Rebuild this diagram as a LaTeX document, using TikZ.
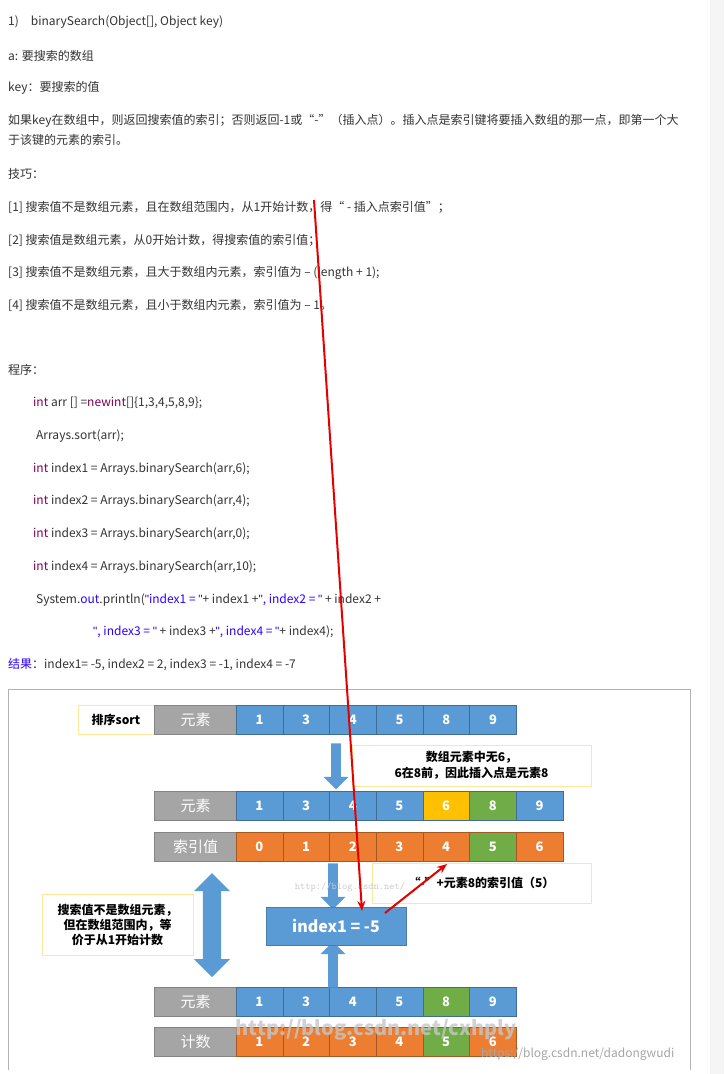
\documentclass[tikz,border=0pt]{standalone}
\usepackage{fontspec}
\setmainfont{Noto Sans CJK SC}
\newfontfamily\lat{Liberation Sans}
\usetikzlibrary{shapes.arrows,arrows.meta}
\definecolor{cblue}{HTML}{5B9BD5}
\definecolor{cgray}{HTML}{A5A5A5}
\definecolor{corange}{HTML}{ED7D31}
\definecolor{cgreen}{HTML}{70AD47}
\definecolor{cyellow}{HTML}{FFC000}
\definecolor{cbox}{HTML}{FFE699}
\definecolor{kw}{HTML}{7F0055}
\definecolor{str}{HTML}{2A00FF}
\definecolor{txt}{HTML}{333333}
\newcommand{\dq}{{\lat\char"0022}}
\begin{document}
\begin{tikzpicture}[x=1pt,y=-1pt,
  body/.style={anchor=west,inner sep=0pt,text=txt,font=\fontsize{12}{13}\selectfont},
  cell/.style={draw=cblue!70!black,line width=0.4pt,minimum height=29pt,inner sep=0pt,text=white,font=\bfseries\fontsize{13}{14}\selectfont},
  hdr/.style={cell,fill=cgray,draw=cgray!80!black,minimum width=82pt,font=\fontsize{15}{16}\selectfont},
  note/.style={draw=cbox,line width=0.8pt,fill=white,inner sep=0pt,align=center,font=\bfseries\fontsize{12}{16}\selectfont},
  barrow/.style={single arrow,fill=cblue,draw=none,minimum height=46pt,single arrow head extend=5pt,minimum width=25pt,inner sep=3pt},
  redline/.style={draw=red!90!black,line width=2pt,-{Stealth[length=10pt,width=8pt]}}]
\useasboundingbox (0,0) rectangle (724,1074);
\fill[white] (0,0) rectangle (724,1074);
\fill[gray!8] (710,0) rectangle (724,1074);
% text
\node[body] (t1) at (8,22) {1)\quad binarySearch(Object[], Object key)};
\node[body] (t2) at (8,56) {a: 要搜索的数组};
\node[body] (t3) at (8,88) {key：要搜索的值};
\node[body] (t4) at (8,121) {如果key在数组中，则返回搜索值的索引；否则返回-1或“-”（插入点）。插入点是索引键将要插入数组的那一点，即第一个大};
\node[body] (t5) at (8,140) {于该键的元素的索引。};
\node[body] (t6) at (8,174) {技巧：};
\node[body] (t7) at (8,207) {[1] 搜索值不是数组元素，且在数组范围内，从1开始计数，得“ - 插入点索引值”；};
\node[body] (t8) at (8,240) {[2] 搜索值是数组元素，从0开始计数，得搜索值的索引值；};
\node[body] (t9) at (8,273) {[3] 搜索值不是数组元素，且大于数组内元素，索引值为 – (length + 1);};
\node[body] (t10) at (8,305) {[4] 搜索值不是数组元素，且小于数组内元素，索引值为 – 1。};
\node[body] (t11) at (8,370) {程序：};
\node[body] (c1) at (33,403) {\textcolor{kw}{int} arr [] =\textcolor{kw}{newint}[]\{1,3,4,5,8,9\};};
\node[body] (c2) at (36,436) {Arrays.sort(arr);};
\node[body] (c3) at (33,469) {\textcolor{kw}{int} index1 = Arrays.binarySearch(arr,6);};
\node[body] (c4) at (33,501) {\textcolor{kw}{int} index2 = Arrays.binarySearch(arr,4);};
\node[body] (c5) at (33,534) {\textcolor{kw}{int} index3 = Arrays.binarySearch(arr,0);};
\node[body] (c6) at (33,567) {\textcolor{kw}{int} index4 = Arrays.binarySearch(arr,10);};
\node[body] (c7) at (36,600) {System.\textcolor{str}{out}.println(\textcolor{str}{\dq index1 = \dq}+ index1 +\textcolor{str}{\dq, index2 = \dq} + index2 +};
\node[body] (c8) at (93,632) {\textcolor{str}{\dq, index3 = \dq} + index3 +\textcolor{str}{\dq, index4 = \dq}+ index4);};
\node[body] (r) at (8,665) {\textcolor{str}{结果}：index1= -5, index2 = 2, index3 = -1, index4 = -7};
% frame
\draw[gray!60] (8,1070) -- (8,689) -- (690,689) -- (690,1070);
% row 1
\node[note,draw=cbox,minimum width=76pt,minimum height=29pt,text=black,font=\bfseries\fontsize{12}{13}\selectfont] (sort) at (116,720) {排序sort};
\node[hdr] (h1) at (195.5,720) {元素};
\foreach \v [count=\i] in {1,3,4,5,8,9}
  \node[cell,fill=cblue,minimum width=47pt] (a\i) at ({236+23.5+(\i-1)*46.7},720) {\v};
% row 2
\node[hdr] (h2) at (195.5,806) {元素};
\foreach \v/\c [count=\i] in {1/cblue,3/cblue,4/cblue,5/cblue,6/cyellow,8/cgreen,9/cblue}
  \node[cell,fill=\c,minimum width=46.7pt] (b\i) at ({236+23.35+(\i-1)*46.7},806) {\v};
% row 3
\node[hdr] (h3) at (195.5,847) {索引值};
\foreach \v/\c [count=\i] in {0/corange,1/corange,2/corange,3/corange,4/corange,5/cgreen,6/corange}
  \node[cell,fill=\c,draw=corange!70!black,minimum width=46.7pt] (d\i) at ({236+23.35+(\i-1)*46.7},847) {\v};
% row 4
\node[hdr] (h4) at (195.5,1002) {元素};
\foreach \v/\c [count=\i] in {1/cblue,3/cblue,4/cblue,5/cblue,8/cgreen,9/cblue}
  \node[cell,fill=\c,minimum width=46.7pt] (e\i) at ({236+23.35+(\i-1)*46.7},1002) {\v};
% row 5
\node[hdr] (h5) at (195.5,1042) {计数};
\foreach \v/\c [count=\i] in {1/corange,2/corange,3/corange,4/corange,5/cgreen,6/corange}
  \node[cell,fill=\c,draw=corange!70!black,minimum width=46.7pt] (f\i) at ({236+23.35+(\i-1)*46.7},1042) {\v};
% arrows
\node[barrow,shape border rotate=270] (ar1) at (336,764) {};
\node[barrow,shape border rotate=270] (ar2) at (333,884) {};
\node[barrow,shape border rotate=90] (ar3) at (333,967) {};
\node[double arrow,fill=cblue,draw=none,rotate=90,minimum height=104pt,minimum width=36pt,double arrow head extend=4pt,inner sep=4pt] (ar4) at (212,925) {};
% index box
\node[fill=cblue,draw=cblue!80!black,minimum width=140pt,minimum height=38pt,text=white,font=\bfseries\fontsize{16}{17}\selectfont] (idx) at (336,926) {index1 = -5};
% notes
\node[note,minimum width=239pt,minimum height=41pt] (n1) at (471.5,765.5) {数组元素中无6，\\6在8前，因此插入点是元素8};
\node[note,minimum width=219pt,minimum height=40pt] (n2) at (481.5,883) {“{\lat\bfseries -}”+元素8的索引值（5）};
\node[note,minimum width=151pt,minimum height=61pt,font=\bfseries\fontsize{12}{15}\selectfont] (n3) at (117.5,924.5) {搜索值不是数组元素，\\但在数组范围内，等\\价于从1开始计数};
% watermarks
\node[text=gray!40,font=\ttfamily\fontsize{10}{10}\selectfont] (w1) at (350,887) {http://blog.csdn.net/};
\node[text=gray!45,opacity=0.8,font=\bfseries\fontsize{20}{20}\selectfont,inner sep=0pt] (w2) at (376,1030) {http://blog.csdn.net/cxhply};
\node[text=gray!70,font=\fontsize{12}{12}\selectfont,inner sep=0pt,anchor=west] (w3) at (481,1054) {https://blog.csdn.net/dadongwudi};
% red lines
\coordinate (rs) at (314,200);
\coordinate (re) at (362,911);
\draw[redline] (rs) -- (re);
\coordinate (rs2) at (385,913);
\coordinate (re2) at (447,864);
\draw[redline] (rs2) -- (re2);
\end{tikzpicture}
\end{document}
